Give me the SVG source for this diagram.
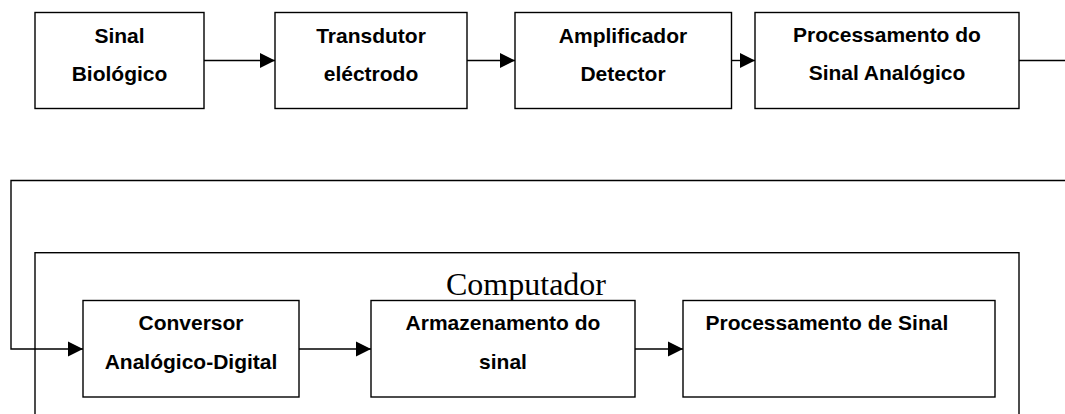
<svg xmlns="http://www.w3.org/2000/svg" width="1065" height="414" viewBox="0 0 1065 414">
  <style>
    .box { fill: #ffffff; stroke: #000000; stroke-width: 1.4; }
    .frame { fill: none; stroke: #000000; stroke-width: 1.4; }
    .wire { fill: none; stroke: #000000; stroke-width: 1.4; }
    .lbl { font-family: "Liberation Sans", Arial, sans-serif; font-weight: bold; font-size: 21px; fill: #000000; text-anchor: middle; }
    .lbl-left { text-anchor: start; }
    .title { font-family: "Liberation Serif", "Times New Roman", serif; font-size: 32px; fill: #000000; text-anchor: middle; }
  </style>
  <defs>
    <marker id="arrow" markerUnits="userSpaceOnUse" markerWidth="16" markerHeight="16" viewBox="0 0 16 16" refX="15" refY="8" orient="auto">
      <path d="M0,0.5 L15,8 L0,15.5 Z" fill="#000000"/>
    </marker>
  </defs>

  <rect width="1065" height="414" fill="#ffffff"/>

  <!-- computer enclosure (bottom edge runs past the page) -->
  <g id="computador">
    <rect class="frame" x="35" y="252.7" width="984" height="200"/>
    <text class="title" x="526" y="295">Computador</text>
  </g>

  <!-- connectors -->
  <g id="connectors">
    <line class="wire" x1="204" y1="60.5" x2="275" y2="60.5" marker-end="url(#arrow)"/>
    <line class="wire" x1="467" y1="60.5" x2="515" y2="60.5" marker-end="url(#arrow)"/>
    <line class="wire" x1="731.5" y1="60.5" x2="755" y2="60.5" marker-end="url(#arrow)"/>
    <line class="wire" x1="1019" y1="60.5" x2="1065" y2="60.5"/>
    <polyline class="wire" points="1065,180.5 11,180.5 11,349 83,349" marker-end="url(#arrow)"/>
    <line class="wire" x1="299" y1="349" x2="371" y2="349" marker-end="url(#arrow)"/>
    <line class="wire" x1="635" y1="349" x2="683" y2="349" marker-end="url(#arrow)"/>
  </g>

  <!-- upper chain -->
  <g id="sinal-biologico">
    <rect class="box" x="35" y="12.5" width="169" height="96"/>
    <text class="lbl" x="119.5" y="43">Sinal</text>
    <text class="lbl" x="119.5" y="81">Biológico</text>
  </g>
  <g id="transdutor">
    <rect class="box" x="275" y="12.5" width="192" height="96"/>
    <text class="lbl" x="371" y="42.5">Transdutor</text>
    <text class="lbl" x="371" y="80.5">eléctrodo</text>
  </g>
  <g id="amplificador">
    <rect class="box" x="515" y="12.5" width="216.5" height="96"/>
    <text class="lbl" x="623" y="43">Amplificador</text>
    <text class="lbl" x="623" y="81">Detector</text>
  </g>
  <g id="processamento-analogico">
    <rect class="box" x="755" y="12.5" width="264" height="96"/>
    <text class="lbl" x="887" y="42">Processamento do</text>
    <text class="lbl" x="887" y="80">Sinal Analógico</text>
  </g>

  <!-- blocks inside the computer -->
  <g id="conversor">
    <rect class="box" x="83" y="300.5" width="216" height="96.5"/>
    <text class="lbl" x="191" y="330">Conversor</text>
    <text class="lbl" x="191" y="368.5">Analógico-Digital</text>
  </g>
  <g id="armazenamento">
    <rect class="box" x="371" y="300.5" width="264" height="96.5"/>
    <text class="lbl" x="503" y="330">Armazenamento do</text>
    <text class="lbl" x="503" y="368.5">sinal</text>
  </g>
  <g id="processamento-sinal">
    <rect class="box" x="683" y="300.5" width="312" height="96.5"/>
    <text class="lbl lbl-left" x="705.5" y="330">Processamento de Sinal</text>
  </g>
</svg>
